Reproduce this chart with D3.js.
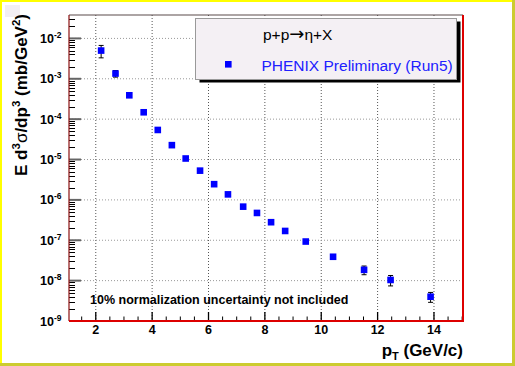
<!DOCTYPE html>
<html>
<head>
<meta charset="utf-8">
<script src="https://cdn.jsdelivr.net/npm/d3@7"></script>
<style>
  body { margin: 0; background: #fff; }
  svg text { font-family: Arial, "Liberation Sans", Helvetica, sans-serif; }
</style>
</head>
<body>
<div id="chart"></div>
<script>
// eta cross section points
const pT = [2.19, 2.70, 3.19, 3.70, 4.20, 4.70, 5.19, 5.70, 6.20, 6.69, 7.23, 7.72, 8.22, 8.72, 9.45, 10.42, 11.52, 12.46, 13.88];
const xsec = [5.0e-3, 1.35e-3, 3.9e-4, 1.48e-4, 5.4e-5, 2.27e-5, 1.06e-5, 5.3e-6, 2.45e-6, 1.37e-6, 6.8e-7, 4.75e-7, 2.8e-7, 1.7e-7, 9.3e-8, 3.9e-8, 1.85e-8, 1.04e-8, 4.0e-9];
const err = [1.7e-3, 0.25e-3, 0.2e-4, 0.08e-4, 0.3e-5, 0.12e-5, 0.06e-5, 0.3e-6, 0.14e-6, 0.08e-6, 0.4e-7, 0.3e-7, 0.25e-7, 0.15e-7, 0.8e-8, 0.4e-8, 0.45e-8, 0.3e-8, 1.1e-9];

const xTicks = [2, 4, 6, 8, 10, 12, 14];
const yExps = [-9, -8, -7, -6, -5, -4, -3, -2];

const width = 515, height = 366;
const plot = { left: 69, top: 15, right: 463, bottom: 321 };

const svg = d3.select('#chart').append('svg')
    .attr('width', width)
    .attr('height', height);

// outer frame
svg.append('rect').attr('x', 0).attr('y', 0).attr('width', width).attr('height', height).attr('fill', '#cccc30');
svg.append('rect').attr('x', 0).attr('y', 0).attr('width', width - 3).attr('height', height - 3).attr('fill', '#ffff00');
svg.append('rect').attr('x', 2).attr('y', 2).attr('width', width - 5).attr('height', height - 5).attr('fill', '#ffffff');
svg.append('rect').attr('x', 5).attr('y', 5).attr('width', 15).attr('height', 12).attr('fill', '#f2eef2');

const x = d3.scaleLinear().domain([1.05, 15.03]).range([plot.left, plot.right]);
const y = d3.scaleLog().domain([1e-9, Math.pow(10, -1.42)]).range([plot.bottom, plot.top]);

// grid
const grid = svg.append('g');
grid.selectAll('.vg').data(xTicks).enter().append('line')
    .attr('x1', d => x(d)).attr('x2', d => x(d))
    .attr('y1', plot.top).attr('y2', plot.bottom)
    .attr('stroke', '#555').attr('stroke-width', 1).attr('stroke-dasharray', '1,2');
grid.selectAll('.hg').data(yExps.slice(1)).enter().append('line')
    .attr('x1', plot.left).attr('x2', plot.right)
    .attr('y1', d => y(Math.pow(10, d))).attr('y2', d => y(Math.pow(10, d)))
    .attr('stroke', '#999').attr('stroke-width', 1).attr('stroke-dasharray', '1,2');

// y ticks (inside)
const minorY = [];
for (let e = -9; e <= -2; e++) {
  for (let m = 2; m <= 9; m++) {
    const v = m * Math.pow(10, e);
    if (v < y.domain()[1]) minorY.push(v);
  }
}
svg.append('g').selectAll('line').data(minorY).enter().append('line')
    .attr('x1', plot.left).attr('x2', plot.left + 6)
    .attr('y1', d => Math.round(y(d)) + 0.5).attr('y2', d => Math.round(y(d)) + 0.5)
    .attr('stroke', '#000').attr('stroke-width', 1);
svg.append('g').selectAll('line').data(yExps).enter().append('line')
    .attr('x1', plot.left).attr('x2', plot.left + 12)
    .attr('y1', d => y(Math.pow(10, d))).attr('y2', d => y(Math.pow(10, d)))
    .attr('stroke', '#666').attr('stroke-width', 2);

// y tick labels
const yl = svg.append('g').selectAll('text').data(yExps).enter().append('text')
    .attr('x', 40).attr('y', d => y(Math.pow(10, d)) + 4.5)
    .attr('font-size', 12.5).attr('font-weight', 'bold').attr('fill', '#000');
yl.append('tspan').text('10');
yl.append('tspan').attr('dy', -5).attr('font-size', 8.5).text(d => d);

// x ticks (inside, from bottom)
const minorX = d3.range(1.5, 15.01, 0.5).filter(v => v % 2 !== 0);
svg.append('g').selectAll('line').data(minorX).enter().append('line')
    .attr('x1', d => x(d)).attr('x2', d => x(d))
    .attr('y1', plot.bottom).attr('y2', plot.bottom - 4.5)
    .attr('stroke', '#000').attr('stroke-width', 1);
svg.append('g').selectAll('line').data(xTicks).enter().append('line')
    .attr('x1', d => x(d)).attr('x2', d => x(d))
    .attr('y1', plot.bottom).attr('y2', plot.bottom - 9)
    .attr('stroke', '#000').attr('stroke-width', 1.3);
svg.append('g').selectAll('text').data(xTicks).enter().append('text')
    .attr('x', d => x(d)).attr('y', 334)
    .attr('text-anchor', 'middle').attr('font-size', 12.5).attr('font-weight', 'bold')
    .text(d => d);

// frame
svg.append('line').attr('x1', plot.left).attr('x2', plot.right).attr('y1', plot.top).attr('y2', plot.top).attr('stroke', '#5a4a4a').attr('stroke-width', 1.2);
svg.append('line').attr('x1', plot.left).attr('x2', plot.left).attr('y1', plot.top).attr('y2', plot.bottom).attr('stroke', '#8b1010').attr('stroke-width', 1.2);
svg.append('line').attr('x1', plot.right).attr('x2', plot.right).attr('y1', plot.top).attr('y2', plot.bottom + 1).attr('stroke', '#dd0000').attr('stroke-width', 2);
svg.append('line').attr('x1', plot.left).attr('x2', plot.right + 1).attr('y1', plot.bottom).attr('y2', plot.bottom).attr('stroke', '#dd0000').attr('stroke-width', 2.2);

// error bars + markers
const pts = pT.map((d, i) => ({ x: d, y: xsec[i], e: err[i] }));
const eb = svg.append('g').selectAll('g').data(pts).enter().append('g');
eb.append('line')
    .attr('x1', d => x(d.x)).attr('x2', d => x(d.x))
    .attr('y1', d => y(d.y + d.e)).attr('y2', d => y(d.y - d.e))
    .attr('stroke', '#000').attr('stroke-width', 1);
eb.append('line')
    .attr('x1', d => x(d.x) - 2.5).attr('x2', d => x(d.x) + 2.5)
    .attr('y1', d => y(d.y + d.e)).attr('y2', d => y(d.y + d.e))
    .attr('stroke', '#000').attr('stroke-width', 1);
eb.append('line')
    .attr('x1', d => x(d.x) - 2.5).attr('x2', d => x(d.x) + 2.5)
    .attr('y1', d => y(d.y - d.e)).attr('y2', d => y(d.y - d.e))
    .attr('stroke', '#000').attr('stroke-width', 1);
svg.append('g').selectAll('rect').data(pts).enter().append('rect')
    .attr('x', d => x(d.x) - 3.3).attr('y', d => y(d.y) - 3.3)
    .attr('width', 6.6).attr('height', 6.6)
    .attr('fill', '#0000ff');

// legend
svg.append('rect').attr('x', 199.5).attr('y', 21.5).attr('width', 261).attr('height', 61).attr('fill', '#000');
svg.append('rect').attr('x', 195.5).attr('y', 18.5).attr('width', 261).attr('height', 61)
    .attr('fill', '#f4f0f4').attr('stroke', '#999').attr('stroke-width', 1);
const lt = svg.append('text').attr('x', 263).attr('y', 39.5).attr('font-size', 15.5).attr('fill', '#000');
lt.append('tspan').text('p+p');
lt.append('tspan').attr('font-family', '"DejaVu Sans"').attr('font-size', 18).text('\u2192');
lt.append('tspan').text('\u03b7+X');
svg.append('rect').attr('x', 225).attr('y', 61).attr('width', 6.6).attr('height', 6.6).attr('fill', '#0000ff');
svg.append('text').attr('x', 261.5).attr('y', 71).attr('font-size', 15.5).attr('fill', '#2020ff')
    .text('PHENIX Preliminary (Run5)');

// note
svg.append('text').attr('x', 90).attr('y', 304).attr('font-size', 12.5).attr('font-weight', 'bold')
    .text('10% normalization uncertainty not included');

// x title
const xt = svg.append('text').attr('x', 463).attr('y', 355.5).attr('text-anchor', 'end')
    .attr('font-size', 17).attr('font-weight', 'bold');
xt.append('tspan').text('p');
xt.append('tspan').attr('dy', 4).attr('font-size', 11).text('T');
xt.append('tspan').attr('dy', -4).text(' (GeV/c)');

// y title
const ytt = svg.append('text').attr('transform', 'translate(26.5,14) rotate(-90)')
    .attr('text-anchor', 'end').attr('font-size', 17).attr('font-weight', 'bold');
ytt.append('tspan').text('E d');
ytt.append('tspan').attr('dy', -7).attr('font-size', 11.5).text('3');
ytt.append('tspan').attr('dy', 7).attr('font-weight', 'normal').text('\u03c3');
ytt.append('tspan').text('/dp');
ytt.append('tspan').attr('dy', -7).attr('font-size', 11.5).text('3');
ytt.append('tspan').attr('dy', 7).text(' (mb/GeV');
ytt.append('tspan').attr('dy', -7).attr('font-size', 11.5).text('2');
ytt.append('tspan').attr('dy', 7).text(')');
</script>
</body>
</html>
